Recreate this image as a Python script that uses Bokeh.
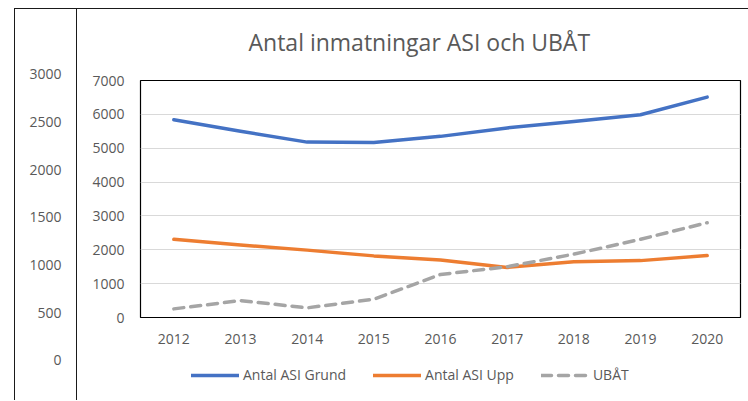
from bokeh.plotting import figure
from bokeh.models import Range1d, FixedTicker, Legend, LegendItem
from bokeh.layouts import row, column
from bokeh.core.properties import value
from bokeh.embed import file_html
from bokeh.resources import INLINE

years = [2012, 2013, 2014, 2015, 2016, 2017, 2018, 2019, 2020]
asi_grund = [5840, 5500, 5180, 5170, 5350, 5600, 5790, 5990, 6510]
asi_upp = [2310, 2140, 1990, 1820, 1700, 1480, 1650, 1680, 1830]
ubat = [255, 500, 285, 540, 1270, 1500, 1870, 2310, 2800]
series_names = ["Antal ASI Grund", "Antal ASI Upp", "UBÅT"]

y_ticks = [0, 1000, 2000, 3000, 4000, 5000, 6000, 7000]
outer_ticks = [0, 500, 1000, 1500, 2000, 2500, 3000]
outer_labels = [str(v) for v in outer_ticks]

FONT = "Open Sans"
TXT = "#595959"
EDGE = "#1a1a1a"
COLORS = ["#4472C4", "#ED7D31", "#A5A5A5"]
DASHES = ["solid", "solid", "10 7"]
H = 400
HP = 355
HG = H - HP
G = "linear-gradient(%s, %s)" % (EDGE, EDGE)

# left strip with the extra scale
pl = figure(width=77, height=H, x_range=Range1d(0, 1), y_range=Range1d(-419.6, 3776),
            output_backend="svg", toolbar_location=None, min_border=0,
            x_axis_location=None, y_axis_location=None)
pl.grid.visible = False
pl.outline_line_color = None
pl.border_fill_alpha = 0
pl.background_fill_alpha = 0
pl.styles = {"background": "%s 14px 8px / 1px 100%% no-repeat, %s 14px 8px / 100%% 1px no-repeat, "
                           "%s right 0 top 8px / 1px 100%% no-repeat" % (G, G, G)}
pl.text(x=[0.792] * len(outer_ticks), y=outer_ticks, text=outer_labels,
        text_align="right", text_baseline="middle", text_font=value(FONT),
        text_font_size="14px", text_color=TXT)

# main chart
p = figure(width=671, height=HP, x_range=Range1d(2011.5, 2020.5), y_range=Range1d(0, 7000),
           output_backend="svg", toolbar_location=None,
           min_border_left=63, min_border_right=8, min_border_top=79, min_border_bottom=HP - 317)
p.border_fill_alpha = 0
p.styles = {"background": "%s 0 8px / 100%% 1px no-repeat" % G}
p.title.text = "Antal inmatningar ASI och UBÅT"
p.title.align = "left"
p.title.offset = 108
p.title.text_font = FONT
p.title.text_font_size = "23px"
p.title.text_font_style = "normal"
p.title.text_color = TXT
p.title.standoff = 46

p.outline_line_color = "#000000"
p.outline_line_width = 1.2

p.xaxis.ticker = FixedTicker(ticks=years)
p.yaxis.ticker = FixedTicker(ticks=y_ticks)
for ax in (p.xaxis[0], p.yaxis[0]):
    ax.axis_line_color = None
    ax.major_tick_line_color = None
    ax.minor_tick_line_color = None
    ax.major_tick_out = 0
    ax.major_tick_in = 0
    ax.minor_tick_out = 0
    ax.major_label_text_font = FONT
    ax.major_label_text_font_size = "14px"
    ax.major_label_text_color = TXT
p.xaxis.major_label_standoff = 16
p.yaxis.major_label_standoff = 16
p.xgrid.visible = False
p.ygrid.grid_line_color = "#d9d9d9"
p.ygrid.grid_line_width = 1.2

for vals, c, d in zip([asi_grund, asi_upp, ubat], COLORS, DASHES):
    p.line(years, vals, line_color=c, line_width=3.5, line_cap="round", line_join="round",
           line_dash=d)

# legend strip under the chart (series drawn out of view, used for the legend keys)
pg = figure(width=671, height=HG, x_range=Range1d(0, 1), y_range=Range1d(0, 1),
            output_backend="svg", toolbar_location=None,
            min_border_left=63, min_border_right=8, min_border_top=0, min_border_bottom=0,
            x_axis_location=None, y_axis_location=None)
pg.grid.visible = False
pg.outline_line_color = None
pg.border_fill_alpha = 0
pg.background_fill_alpha = 0
items = []
for name, vals, c, d in zip(series_names, [asi_grund, asi_upp, ubat], COLORS, DASHES):
    r = pg.line(years, vals, line_color=c, line_width=3.5, line_cap="round", line_dash=d)
    items.append(LegendItem(label=name, renderers=[r]))
legend = Legend(items=items, location=(51, 16), orientation="horizontal",
                glyph_width=48, glyph_height=16, label_height=16, label_standoff=4,
                spacing=27, padding=0, margin=0, border_line_color=None,
                background_fill_alpha=0, label_text_font=FONT,
                label_text_font_size="14px", label_text_color=TXT)
pg.add_layout(legend, "center")

layout = row(column(pl), column(p, pg))
open("out.html", "w").write(file_html(layout, INLINE))
